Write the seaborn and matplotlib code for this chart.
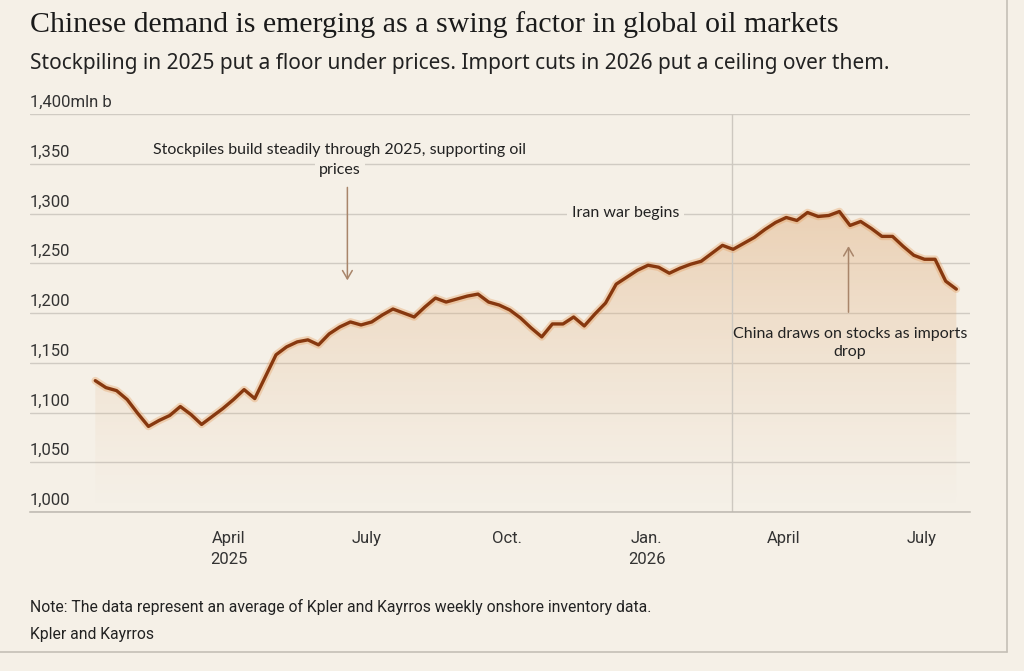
import numpy as np
import pandas as pd
import matplotlib
matplotlib.use("Agg")
import matplotlib.pyplot as plt
import matplotlib.dates as mdates
import matplotlib.patheffects as pe
from matplotlib.lines import Line2D
import seaborn as sns

# datos semanales de inventarios (mln b)
fechas = pd.date_range("2025-01-03", periods=82, freq="7D")
inventario = [
    1132, 1125, 1122, 1113, 1099, 1086, 1092, 1097, 1106, 1098,
    1088, 1096, 1104, 1113, 1123, 1114, 1136, 1158, 1166, 1171,
    1173, 1168, 1179, 1186, 1191, 1188, 1191, 1198, 1204, 1200,
    1196, 1206, 1215, 1211, 1214, 1217, 1219, 1211, 1208, 1203,
    1195, 1185, 1176, 1189, 1189, 1196, 1187, 1199, 1210, 1229,
    1236, 1243, 1248, 1246, 1240, 1245, 1249, 1252, 1260, 1268,
    1264, 1270, 1276, 1284, 1291, 1296, 1293, 1301, 1297, 1298,
    1302, 1288, 1292, 1285, 1277, 1277, 1267, 1258, 1254, 1254,
    1232, 1224,
]
y_ticks = [1000, 1050, 1100, 1150, 1200, 1250, 1300, 1350, 1400]
y_labels = ["1,000", "1,050", "1,100", "1,150", "1,200", "1,250", "1,300", "1,350", "1,400mln b"]
x_ticks = pd.to_datetime(["2025-04-01", "2025-07-01", "2025-10-01", "2026-01-01", "2026-04-01", "2026-07-01"])
x_labels = ["April\n2025", "July", "Oct.", "Jan.\n2026", "April", "July"]
guerra = pd.Timestamp("2026-02-26")

df = pd.DataFrame({"fecha": fechas, "valor": inventario})

fondo = "#f5f0e7"
texto = "#222222"
sns.set_style("white")
plt.rcParams["font.family"] = ["Roboto", "DejaVu Sans"]
anot = ["Lato", "DejaVu Sans"]

fig = plt.figure(figsize=(10.24, 6.71), dpi=100, facecolor=fondo)
ax = fig.add_axes([30 / 1024, 1 - 512 / 671, 940 / 1024, 398 / 671])
ax.set_facecolor(fondo)

xmin, xmax = pd.Timestamp("2024-11-21"), pd.Timestamp("2026-08-02")

# relleno con degradado bajo la línea
poly = ax.fill_between(df["fecha"], df["valor"], 1000, facecolor="none", edgecolor="none")
grad = np.zeros((100, 1, 4))
grad[:, 0, 0] = 0.88
grad[:, 0, 1] = 0.69
grad[:, 0, 2] = 0.50
grad[:, 0, 3] = np.linspace(0.0, 0.58, 100) ** 1.3
im = ax.imshow(grad, extent=[mdates.date2num(xmin), mdates.date2num(xmax), 1000, 1310],
               aspect="auto", origin="lower", zorder=1)
im.set_clip_path(poly.get_paths()[0], transform=ax.transData)

# línea principal
sns.lineplot(data=df, x="fecha", y="valor", ax=ax, color="#87380f", lw=2.4, zorder=4,
             path_effects=[pe.Stroke(linewidth=5.5, foreground="#e59a58", alpha=0.35), pe.Normal()])

ax.set_xlim(xmin, xmax)
ax.set_ylim(1000, 1400)

# rejilla
ax.set_yticks(y_ticks)
ax.set_yticklabels([])
ax.tick_params(axis="y", length=0)
ax.grid(axis="y", color="#d0cbc3", lw=1, zorder=0)
ax.grid(axis="x", visible=False)
for s in ["top", "right", "left"]:
    ax.spines[s].set_visible(False)
ax.spines["bottom"].set_color("#bcb7af")
ax.spines["bottom"].set_linewidth(1.1)

for v, lab in zip(y_ticks, y_labels):
    ax.annotate(lab, xy=(0, v), xycoords=("axes fraction", "data"), xytext=(0, 4),
                textcoords="offset pixels", ha="left", va="bottom", fontsize=12, color="#333333")

ax.set_xticks(x_ticks)
ax.set_xticklabels(x_labels, fontsize=12, color="#333333", linespacing=1.45)
ax.tick_params(axis="x", length=6, width=1, color="#c8c3bb", pad=8)
ax.set_xlabel("")
ax.set_ylabel("")

# línea vertical de la guerra
ax.axvline(guerra, color="#cdc8c0", lw=1, zorder=2)
ax.annotate("Iran war begins", xy=(guerra, 1300), xytext=(-52, 0), textcoords="offset pixels",
            ha="right", va="center", fontsize=11.5, family=anot, color=texto,
            bbox=dict(boxstyle="square,pad=0.3", fc=fondo, ec="none"), zorder=5)

# anotaciones
f_stock = pd.Timestamp("2025-06-13")
ax.text(f_stock, 1364, "Stockpiles build steadily through 2025, supporting oil", ha="center", va="center",
        fontsize=11.5, family=anot, color=texto, zorder=5)
ax.text(f_stock, 1344, "prices", ha="center", va="center", fontsize=11.5, family=anot,
        color=texto, bbox=dict(boxstyle="square,pad=0.25", fc=fondo, ec="none"), zorder=5)
ax.annotate("", xy=(pd.Timestamp("2025-06-18"), 1230), xytext=(pd.Timestamp("2025-06-18"), 1329),
            arrowprops=dict(arrowstyle="->,head_length=0.6,head_width=0.35", color="#a8856a", lw=1.1), zorder=5)

ax.text(pd.Timestamp("2026-05-15"), 1170, "China draws on stocks as imports\ndrop", ha="center", va="center",
        fontsize=11.5, family=anot, color=texto, linespacing=1.4, zorder=5)
ax.annotate("", xy=(pd.Timestamp("2026-05-14"), 1270), xytext=(pd.Timestamp("2026-05-14"), 1198),
            arrowprops=dict(arrowstyle="->,head_length=0.6,head_width=0.35", color="#a8856a", lw=1.1), zorder=5)

# títulos y notas
fig.text(30 / 1024, 1 - 25 / 671, "Chinese demand is emerging as a swing factor in global oil markets",
         ha="left", va="center", fontsize=21.5, family=["Liberation Serif", "DejaVu Serif"], color="#1a1a1a")
fig.text(30 / 1024, 1 - 64 / 671,
         "Stockpiling in 2025 put a floor under prices. Import cuts in 2026 put a ceiling over them.",
         ha="left", va="center", fontsize=15, family=["Noto Sans", "DejaVu Sans"], color=texto)
fig.text(30 / 1024, 1 - 607 / 671,
         "Note: The data represent an average of Kpler and Kayrros weekly onshore inventory data.",
         ha="left", va="center", fontsize=11.3, color=texto)
fig.text(30 / 1024, 1 - 634 / 671, "Kpler and Kayrros", ha="left", va="center", fontsize=11.3, color=texto)

# borde de la tarjeta
fig.add_artist(Line2D([1007 / 1024, 1007 / 1024], [1 - 652 / 671, 1], transform=fig.transFigure,
                      color="#c4bfb6", lw=1.2))
fig.add_artist(Line2D([0, 1007 / 1024], [1 - 652 / 671, 1 - 652 / 671], transform=fig.transFigure,
                      color="#c4bfb6", lw=1.2))

fig.savefig("out.png", dpi=100, facecolor=fondo)
